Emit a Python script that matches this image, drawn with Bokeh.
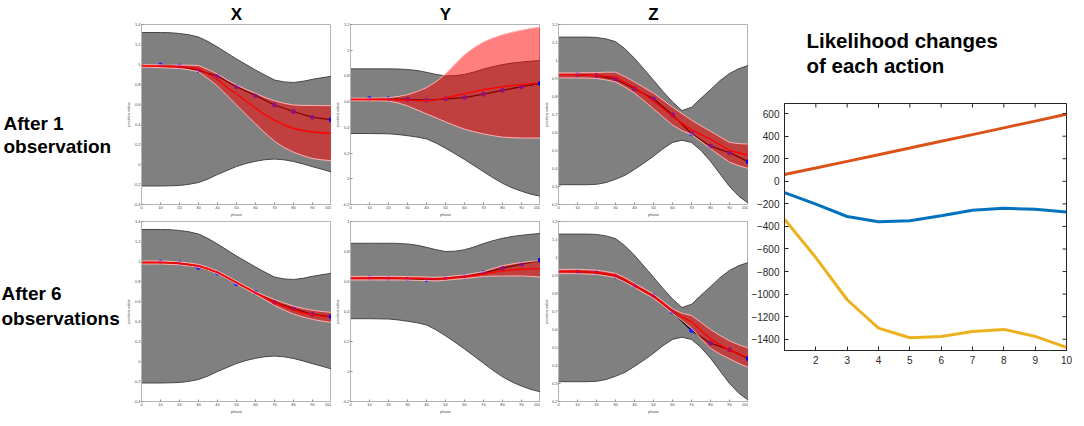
from bokeh.plotting import figure
from bokeh.layouts import row, column
from bokeh.models import Range1d, FixedTicker, CustomJSTickFormatter
from bokeh.core.properties import value
from bokeh.embed import file_html
from bokeh.resources import INLINE

# ---------------- data ----------------
PHASE = [0, 5, 10, 15, 20, 25, 30, 35, 40, 45, 50, 55, 60, 65, 70, 75, 80, 85, 90, 95, 100]
OBS_PHASE = [10, 20, 30, 40, 50, 60, 70, 80, 90, 100]

# prior (gray) bands
X_PRIOR_UP = [1.32, 1.32, 1.32, 1.318, 1.31, 1.297, 1.275, 1.23, 1.175, 1.115, 1.055, 1.0, 0.945, 0.893, 0.845, 0.826, 0.82, 0.832, 0.852, 0.868, 0.882]
X_PRIOR_LO = [-0.215, -0.215, -0.215, -0.213, -0.21, -0.198, -0.18, -0.145, -0.10, -0.06, -0.02, 0.01, 0.032, 0.048, 0.054, 0.047, 0.03, 0.006, -0.022, -0.048, -0.075]
Y_PRIOR_UP = [0.855, 0.855, 0.855, 0.855, 0.855, 0.854, 0.85, 0.842, 0.828, 0.812, 0.80, 0.802, 0.812, 0.83, 0.853, 0.872, 0.888, 0.9, 0.908, 0.915, 0.92]
Y_PRIOR_LO = [0.352, 0.352, 0.352, 0.351, 0.35, 0.344, 0.335, 0.325, 0.31, 0.278, 0.238, 0.195, 0.15, 0.103, 0.055, 0.008, -0.035, -0.07, -0.097, -0.12, -0.136]
Z_PRIOR_UP = [1.13, 1.13, 1.13, 1.13, 1.128, 1.12, 1.105, 1.065, 1.012, 0.952, 0.89, 0.828, 0.77, 0.722, 0.74, 0.79, 0.838, 0.888, 0.928, 0.955, 0.973]
Z_PRIOR_LO = [0.31, 0.31, 0.31, 0.31, 0.312, 0.322, 0.34, 0.362, 0.395, 0.43, 0.468, 0.51, 0.545, 0.557, 0.545, 0.5, 0.44, 0.37, 0.3, 0.245, 0.207]

# posterior after 1 observation
X1_UP = [0.998, 0.997, 0.996, 0.995, 0.994, 0.993, 0.99, 0.95, 0.905, 0.845, 0.797, 0.75, 0.713, 0.67, 0.637, 0.612, 0.595, 0.591, 0.59, 0.589, 0.588]
X1_LO = [0.975, 0.972, 0.968, 0.964, 0.959, 0.947, 0.927, 0.86, 0.785, 0.69, 0.596, 0.50, 0.407, 0.315, 0.233, 0.17, 0.123, 0.088, 0.06, 0.046, 0.038]
X1_MEAN = [0.986, 0.985, 0.983, 0.98, 0.977, 0.97, 0.958, 0.905, 0.85, 0.77, 0.705, 0.635, 0.565, 0.498, 0.443, 0.395, 0.36, 0.34, 0.325, 0.317, 0.313]
Y1_UP = [0.627, 0.627, 0.627, 0.628, 0.63, 0.64, 0.654, 0.678, 0.709, 0.755, 0.815, 0.89, 0.964, 1.02, 1.064, 1.095, 1.12, 1.14, 1.155, 1.17, 1.18]
Y1_LO = [0.607, 0.607, 0.607, 0.606, 0.604, 0.59, 0.567, 0.536, 0.505, 0.474, 0.443, 0.413, 0.386, 0.366, 0.349, 0.335, 0.324, 0.32, 0.317, 0.317, 0.317]
Y1_MEAN = [0.617, 0.617, 0.617, 0.617, 0.617, 0.615, 0.612, 0.608, 0.607, 0.614, 0.629, 0.646, 0.662, 0.678, 0.694, 0.705, 0.716, 0.725, 0.733, 0.74, 0.746]
Z1_UP = [0.931, 0.931, 0.931, 0.932, 0.933, 0.935, 0.935, 0.91, 0.881, 0.85, 0.819, 0.78, 0.74, 0.705, 0.669, 0.637, 0.607, 0.576, 0.545, 0.538, 0.536]
Z1_LO = [0.903, 0.903, 0.903, 0.902, 0.9, 0.892, 0.881, 0.852, 0.819, 0.776, 0.731, 0.686, 0.642, 0.61, 0.589, 0.55, 0.51, 0.472, 0.435, 0.415, 0.40]
Z1_MEAN = [0.92, 0.92, 0.92, 0.919, 0.917, 0.913, 0.908, 0.88, 0.85, 0.813, 0.775, 0.733, 0.69, 0.652, 0.616, 0.588, 0.563, 0.532, 0.501, 0.486, 0.474]

# posterior after 6 observations
X6_UP = [1.005, 1.005, 1.005, 1.001, 0.996, 0.985, 0.971, 0.942, 0.907, 0.857, 0.805, 0.753, 0.701, 0.657, 0.62, 0.585, 0.554, 0.531, 0.513, 0.5, 0.491]
X6_LO = [0.975, 0.975, 0.975, 0.971, 0.966, 0.955, 0.941, 0.912, 0.877, 0.827, 0.775, 0.723, 0.671, 0.617, 0.56, 0.515, 0.474, 0.445, 0.421, 0.404, 0.391]
X6_MEAN = [0.99, 0.99, 0.99, 0.986, 0.981, 0.97, 0.956, 0.927, 0.892, 0.842, 0.79, 0.738, 0.686, 0.637, 0.59, 0.55, 0.514, 0.488, 0.467, 0.452, 0.441]
Y6_UP = [0.634, 0.634, 0.634, 0.634, 0.634, 0.634, 0.633, 0.632, 0.63, 0.628, 0.632, 0.638, 0.644, 0.654, 0.666, 0.686, 0.706, 0.717, 0.727, 0.734, 0.742]
Y6_LO = [0.61, 0.61, 0.61, 0.61, 0.61, 0.61, 0.609, 0.608, 0.606, 0.604, 0.608, 0.614, 0.62, 0.626, 0.634, 0.636, 0.636, 0.637, 0.637, 0.634, 0.63]
Y6_MEAN = [0.622, 0.622, 0.622, 0.622, 0.622, 0.622, 0.621, 0.62, 0.618, 0.616, 0.62, 0.626, 0.632, 0.64, 0.65, 0.661, 0.671, 0.677, 0.682, 0.684, 0.686]
Z6_UP = [0.934, 0.934, 0.934, 0.932, 0.929, 0.922, 0.912, 0.888, 0.857, 0.827, 0.797, 0.757, 0.715, 0.69, 0.678, 0.639, 0.6, 0.567, 0.537, 0.515, 0.497]
Z6_LO = [0.91, 0.91, 0.91, 0.908, 0.905, 0.898, 0.888, 0.864, 0.833, 0.803, 0.773, 0.733, 0.691, 0.65, 0.608, 0.549, 0.496, 0.463, 0.437, 0.411, 0.389]
Z6_MEAN = [0.922, 0.922, 0.922, 0.92, 0.917, 0.91, 0.9, 0.876, 0.845, 0.815, 0.785, 0.745, 0.703, 0.67, 0.643, 0.594, 0.548, 0.515, 0.487, 0.463, 0.443]

# demonstrated trajectory (observed points)
X_TRAJ = [0.995, 0.985, 0.94, 0.885, 0.778, 0.69, 0.595, 0.53, 0.472, 0.448]
Y_TRAJ = [0.624, 0.622, 0.618, 0.612, 0.622, 0.632, 0.658, 0.688, 0.716, 0.742]
Z_TRAJ = [0.922, 0.916, 0.896, 0.843, 0.787, 0.698, 0.594, 0.524, 0.488, 0.438]

# likelihood chart
TRIALS = [1, 2, 3, 4, 5, 6, 7, 8, 9, 10]
LIK_RED = [60, 118, 177, 236, 295, 355, 414, 474, 534, 594]
LIK_BLUE = [-100, -203, -312, -359, -350, -306, -256, -239, -248, -271]
LIK_YELLOW = [-336, -676, -1050, -1302, -1387, -1375, -1331, -1313, -1375, -1473]
LIK_YTICKS = [-1400, -1200, -1000, -800, -600, -400, -200, 0, 200, 400, 600]
LIK_XTICKS = [2, 3, 4, 5, 6, 7, 8, 9, 10]
LIK_XR = (1, 10)
LIK_YR = (-1500, 690)

PHASE_TICKS = [0, 10, 20, 30, 40, 50, 60, 70, 80, 90, 100]
X_YTICKS = [-0.4, -0.2, 0, 0.2, 0.4, 0.6, 0.8, 1, 1.2, 1.4]
Y1_YTICKS = [-0.2, 0, 0.2, 0.4, 0.6, 0.8, 1, 1.2]
Y6_YTICKS = [-0.2, 0, 0.2, 0.4, 0.6, 0.8, 1]
Z_YTICKS = [0.2, 0.3, 0.4, 0.5, 0.6, 0.7, 0.8, 0.9, 1, 1.1, 1.2]

FONTNAME = "Liberation Sans"
FONT = value(FONTNAME)

# layout sizes (pixels)
LAB_W = 122
PAN_W = 190
PAN_L = 18
FH1, FH2 = 180, 180
TOP1, BOT1, TOP2, BOT2 = 24, 11, 2, 11
LK_W, LK_H = 282, 247
LK_L, LK_R = 34, 6
TTL_H = 92


def fmt():
    return CustomJSTickFormatter(code="return String(Number(tick.toFixed(2)));")


def text_fig(fw, fh, lb, rb, tb, bb):
    f = figure(frame_width=fw, frame_height=fh, x_range=Range1d(0, fw), y_range=Range1d(fh, 0),
               x_axis_type=None, y_axis_type=None, toolbar_location=None, output_backend="svg",
               title=None, min_border_left=lb, min_border_right=rb, min_border_top=tb,
               min_border_bottom=bb)
    f.grid.visible = False
    f.outline_line_color = None
    return f


def panel(prior_up, prior_lo, up, lo, mean, traj, yr, yticks, fh, tb, bb, head=None):
    p = figure(frame_width=PAN_W, frame_height=fh, x_range=Range1d(0, 100), y_range=Range1d(*yr),
               toolbar_location=None, output_backend="svg", title=head,
               min_border_left=PAN_L, min_border_right=0, min_border_top=tb, min_border_bottom=bb)
    if head is not None:
        p.title.align = "center"
        p.title.text_font = FONTNAME
        p.title.text_font_size = "17px"
        p.title.text_font_style = "bold"
        p.title.text_color = "black"
        p.title.standoff = 2
    p.grid.visible = False
    p.outline_line_color = "#b4b4b4"
    p.background_fill_color = "white"
    for ax in p.xaxis:
        ax.ticker = FixedTicker(ticks=PHASE_TICKS)
        ax.axis_label = "phase"
    for ax in p.yaxis:
        ax.ticker = FixedTicker(ticks=yticks)
        ax.formatter = fmt()
        ax.axis_label = "position value"
    for ax in p.xaxis + p.yaxis:
        ax.major_label_text_font_size = "4px"
        ax.major_label_text_font = FONTNAME
        ax.major_label_text_color = "#444444"
        ax.axis_label_text_font_size = "4px"
        ax.axis_label_text_font = FONTNAME
        ax.axis_label_text_font_style = "normal"
        ax.axis_label_text_color = "#444444"
        ax.axis_label_standoff = 0
        ax.major_label_standoff = 1
        ax.major_tick_in = 2
        ax.major_tick_out = 0
        ax.major_tick_line_color = "#888888"
        ax.minor_tick_line_color = None
        ax.axis_line_color = "#b4b4b4"
    # prior band
    p.varea(x=PHASE, y1=prior_lo, y2=prior_up, fill_color="#808080")
    p.line(PHASE, prior_up, line_color="#3a3a3a", line_width=0.9)
    p.line(PHASE, prior_lo, line_color="#3a3a3a", line_width=0.9)
    # trajectory below the posterior band
    p.line(OBS_PHASE, traj, line_color="black", line_width=1.3)
    p.scatter(OBS_PHASE[:-1], traj[:-1], size=4, fill_color="#2020ff", line_color="#2020ff")
    # posterior band
    p.varea(x=PHASE, y1=lo, y2=up, fill_color="#ff0000", fill_alpha=0.5)
    p.line(PHASE, up, line_color="#ffb0b0", line_width=1)
    p.line(PHASE, lo, line_color="#ffb0b0", line_width=1)
    p.line(PHASE, mean, line_color="#ff0000", line_width=1.4)
    p.scatter(OBS_PHASE[-1:], traj[-1:], size=4.5, fill_color="#0000ff", line_color="#0000ff")
    return p


# top row (column headers as titles)
px1 = panel(X_PRIOR_UP, X_PRIOR_LO, X1_UP, X1_LO, X1_MEAN, X_TRAJ, (-0.4, 1.4), X_YTICKS, FH1, TOP1, BOT1, "X")
py1 = panel(Y_PRIOR_UP, Y_PRIOR_LO, Y1_UP, Y1_LO, Y1_MEAN, Y_TRAJ, (-0.2, 1.2), Y1_YTICKS, FH1, TOP1, BOT1, "Y")
pz1 = panel(Z_PRIOR_UP, Z_PRIOR_LO, Z1_UP, Z1_LO, Z1_MEAN, Z_TRAJ, (0.2, 1.2), Z_YTICKS, FH1, TOP1, BOT1, "Z")
# bottom row
px6 = panel(X_PRIOR_UP, X_PRIOR_LO, X6_UP, X6_LO, X6_MEAN, X_TRAJ, (-0.4, 1.4), X_YTICKS, FH2, TOP2, BOT2)
py6 = panel(Y_PRIOR_UP, Y_PRIOR_LO, Y6_UP, Y6_LO, Y6_MEAN, Y_TRAJ, (-0.2, 1.0), Y6_YTICKS, FH2, TOP2, BOT2)
pz6 = panel(Z_PRIOR_UP, Z_PRIOR_LO, Z6_UP, Z6_LO, Z6_MEAN, Z_TRAJ, (0.2, 1.2), Z_YTICKS, FH2, TOP2, BOT2)

# row labels (coordinates relative to the panel frame of the same row)
lab1 = text_fig(LAB_W, FH1, 0, 0, TOP1, BOT1)
lab1.text(x=[3, 3], y=[99, 122], text=["After 1", "observation"], text_font=FONT,
          text_font_style="bold", text_font_size="19px", text_align="left",
          text_baseline="alphabetic", text_color="black")
lab6 = text_fig(LAB_W, FH2, 0, 0, TOP2, BOT2)
lab6.text(x=[1, 1], y=[72, 97], text=["After 6", "observations"], text_font=FONT,
          text_font_style="bold", text_font_size="19px", text_align="left",
          text_baseline="alphabetic", text_color="black")

# likelihood title
ttl = text_fig(LK_W, TTL_H, LK_L, LK_R, 0, 0)
ttl.text(x=[22, 22], y=[40, 65], text=["Likelihood changes", "of each action"], text_font=FONT,
         text_font_style="bold", text_font_size="20.5px", text_align="left",
         text_baseline="alphabetic", text_color="black")

# likelihood chart
lk = figure(frame_width=LK_W, frame_height=LK_H, x_range=Range1d(*LIK_XR), y_range=Range1d(*LIK_YR),
            toolbar_location=None, output_backend="svg", title=None,
            min_border_left=LK_L, min_border_right=LK_R, min_border_top=11, min_border_bottom=30)
lk.grid.visible = False
lk.outline_line_color = "#262626"
lk.line(TRIALS, LIK_RED, line_color="#D95319", line_width=3)
lk.line(TRIALS, LIK_BLUE, line_color="#0072BD", line_width=3)
lk.line(TRIALS, LIK_YELLOW, line_color="#EDB120", line_width=3)
# matching inward ticks on the top and right edges (box style)
tick_dx = (LIK_XR[1] - LIK_XR[0]) * 4 / LK_W
tick_dy = (LIK_YR[1] - LIK_YR[0]) * 4 / LK_H
lk.segment(x0=LIK_XTICKS, y0=[LIK_YR[1]] * len(LIK_XTICKS), x1=LIK_XTICKS,
           y1=[LIK_YR[1] - tick_dy] * len(LIK_XTICKS), line_color="#262626", line_width=1)
lk.segment(x0=[LIK_XR[1]] * len(LIK_YTICKS), y0=LIK_YTICKS, x1=[LIK_XR[1] - tick_dx] * len(LIK_YTICKS),
           y1=LIK_YTICKS, line_color="#262626", line_width=1)
lk.xaxis.ticker = FixedTicker(ticks=LIK_XTICKS)
lk.yaxis.ticker = FixedTicker(ticks=LIK_YTICKS)
for ax in lk.xaxis + lk.yaxis:
    ax.major_label_text_font_size = "10px"
    ax.major_label_text_font = FONTNAME
    ax.major_label_text_color = "#262626"
    ax.major_label_standoff = 5
    ax.major_tick_in = 4
    ax.major_tick_out = 0
    ax.minor_tick_line_color = None
    ax.axis_line_color = "#262626"
    ax.major_tick_line_color = "#262626"

left = column(row(lab1, px1, py1, pz1), row(lab6, px6, py6, pz6))
right = column(ttl, lk)
layout = row(left, right)

open("out.html", "w").write(file_html(layout, INLINE))
